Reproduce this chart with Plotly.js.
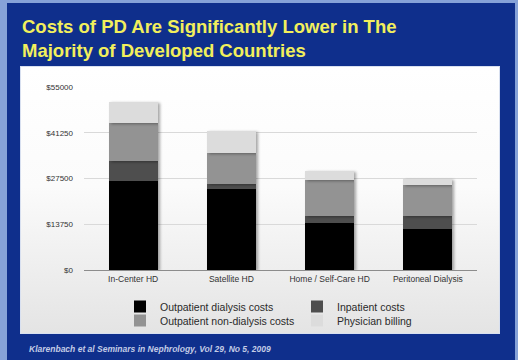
<!DOCTYPE html>
<html>
<head>
<meta charset="utf-8">
<script src="https://cdn.plot.ly/plotly-3.0.1.min.js"></script>
<style>
  html, body { margin: 0; padding: 0; width: 518px; height: 360px; overflow: hidden; background: #86a2d8; }
  #slide { position: absolute; left: 7px; top: 3px; width: 508px; height: 357px; background: #0f2f8c; }
  #panel { position: absolute; left: 20px; top: 66px; width: 480px; height: 268px;
           background: linear-gradient(to bottom, #ffffff 0%, #fbfbfb 45%, #e4e4e4 100%);
           border: 1px solid #d8e0f0; box-sizing: border-box; }
  #chart { position: absolute; left: 0; top: 0; width: 518px; height: 360px; }
  #chart .trace.bars .point path { filter: drop-shadow(2px 1px 1.5px rgba(0,0,0,0.35)); }
</style>
</head>
<body>
<div id="slide"></div>
<div id="panel"></div>
<div id="chart"></div>
<script>
// Data (USD per patient-year, stacked)
const categories = ["In-Center HD", "Satellite HD", "Home / Self-Care HD", "Peritoneal Dialysis"];
const outpatientDialysis = [26800, 24200, 14100, 12300];
const inpatientCosts = [6000, 1600, 2100, 3900];
const outpatientNonDialysis = [11300, 9450, 11000, 9300];
const physicianBilling = [6500, 6550, 2600, 2000];
const yTickVals = [0, 13750, 27500, 41250, 55000];
const yTickText = ["$0", "$13750", "$27500", "$41250", "$55000"];

const seriesNames = ["Outpatient dialysis costs", "Inpatient costs", "Outpatient non-dialysis costs", "Physician billing"];
const seriesValues = [outpatientDialysis, inpatientCosts, outpatientNonDialysis, physicianBilling];
const seriesColors = ["#000000", "#4e4e4e", "#939393", "#dcdcdc"];
const seriesLegend = ["legend", "legend", "legend2", "legend2"];

const traces = seriesNames.map((n, i) => ({
  type: "bar",
  name: n,
  x: categories,
  y: seriesValues[i],
  legend: seriesLegend[i],
  marker: { color: seriesColors[i], line: { width: 0 } },
  hoverinfo: "x+y+name"
}));

const W = 518, H = 360;
const mL = 84, mR = 41, mT = 87, mB = 90;
const pw = W - mL - mR, ph = H - mT - mB;
const px2x = px => (px - mL) / pw;
const py2y = py => (H - mB - py) / ph;

const legendBase = {
  orientation: "h",
  x: px2x(120), xanchor: "left",
  yanchor: "top",
  entrywidth: 132, entrywidthmode: "pixels",
  traceorder: "normal",
  font: { size: 10.5, color: "#2a2a2a" },
  bgcolor: "rgba(0,0,0,0)",
  itemwidth: 30,
  tracegroupgap: 0
};

const layout = {
  width: W, height: H,
  margin: { l: mL, r: mR, t: mT, b: mB, pad: 0 },
  paper_bgcolor: "rgba(0,0,0,0)",
  plot_bgcolor: "rgba(0,0,0,0)",
  barmode: "stack",
  bargap: 0.5,
  font: { family: "Liberation Sans, Arial, sans-serif", color: "#333333" },
  title: {
    text: "Costs of PD Are Significantly Lower in The<br>Majority of Developed Countries",
    xref: "container", yref: "container",
    x: 22 / W, xanchor: "left",
    y: 1 - 33 / H, yanchor: "top",
    font: { family: "Liberation Sans, Arial, sans-serif", size: 18.5, color: "#f2ef5c", weight: "bold" }
  },
  xaxis: {
    type: "category",
    showgrid: false,
    showline: false,
    zeroline: false,
    ticks: "",
    ticklabelstandoff: 2,
    tickfont: { size: 8.5, color: "#333333" },
    fixedrange: true
  },
  yaxis: {
    range: [0, 55000],
    tickvals: yTickVals,
    ticktext: yTickText,
    showgrid: true,
    gridcolor: "#d9d9d9",
    gridwidth: 1,
    zeroline: true,
    zerolinecolor: "#8c8c8c",
    zerolinewidth: 1,
    showline: false,
    ticks: "",
    ticklabelstandoff: 10,
    tickfont: { size: 8, color: "#333333" },
    fixedrange: true
  },
  showlegend: true,
  legend: Object.assign({}, legendBase, { y: py2y(292) }),
  legend2: Object.assign({}, legendBase, { y: py2y(306) }),
  annotations: [{
    text: "<b><i>Klarenbach et al Seminars in Nephrology, Vol 29, No 5, 2009</i></b>",
    xref: "paper", yref: "paper",
    x: px2x(27), y: py2y(349),
    xanchor: "left", yanchor: "middle",
    showarrow: false,
    font: { family: "Liberation Sans, Arial, sans-serif", size: 8.5, color: "#c3cce6" }
  }]
};

Plotly.newPlot("chart", traces, layout, { displayModeBar: false, staticPlot: true });
</script>
</body>
</html>
